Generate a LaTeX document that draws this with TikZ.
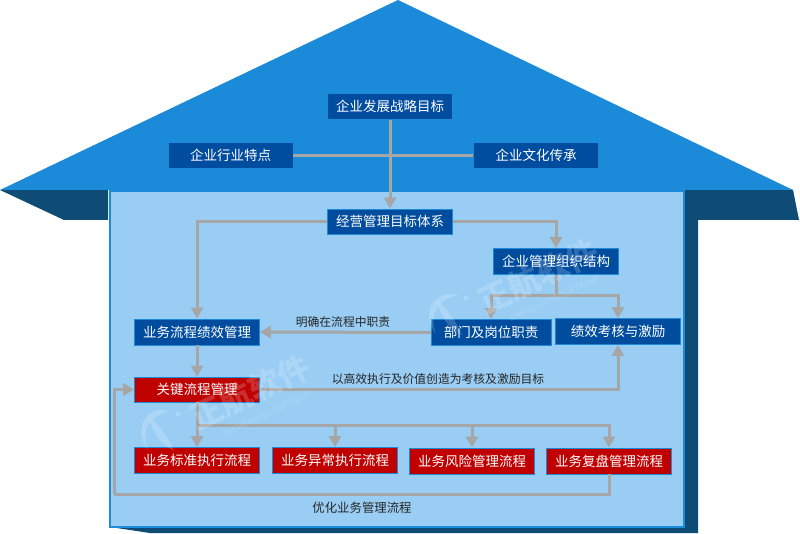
\documentclass[tikz,border=0pt]{standalone}
\usepackage{fontspec}
\setmainfont{Noto Sans CJK SC}
\usepackage{xcolor}
\usetikzlibrary{arrows.meta,calc}
\definecolor{roofblue}{HTML}{1B8AD9}
\definecolor{wallblue}{HTML}{99CDF3}
\definecolor{eavedark}{HTML}{0F4C75}
\definecolor{boxblue}{HTML}{004DA0}
\definecolor{boxred}{HTML}{C00000}
\definecolor{flowgray}{HTML}{A6A6A6}
\tikzset{
  bluebox/.style={draw=roofblue, line width=0.8pt, fill=boxblue, text=white, font=\fontsize{13.5}{14}\selectfont,
    minimum width=125pt, minimum height=26pt, inner sep=0pt},
  redbox/.style={bluebox, fill=boxred},
  flow/.style={draw=flowgray, line width=3pt},
  flowlabel/.style={text=black!85, inner sep=0pt},
  stamp/.style={text=white, text opacity=0.18, rotate=25, inner sep=0pt}
}
\begin{document}
\begin{tikzpicture}[>={Triangle[length=11pt,width=12pt]}, x=1pt, y=-1pt]
  \useasboundingbox (0,0) rectangle (800,534);
  % house
  \fill[eavedark] (0,190) -- (64,220) -- (108,220) -- (108,190) -- cycle;
  \fill[eavedark] (684,190) -- (793,190) -- (799,220) -- (698,220) -- (698,533) -- (150,533) -- (110,527) -- (684,527) -- cycle;
  \fill[roofblue] (0,190) -- (398,0) -- (793,190) -- cycle;
  \draw[roofblue, fill=wallblue, line width=2pt] (110,191) rectangle (684,527);
  % boxes
  \node[bluebox] (goal) at (390,106.5) {企业发展战略目标};
  \node[bluebox] (trade) at (230.5,155.5) {企业行业特点};
  \node[bluebox] (culture) at (536,155.5) {企业文化传承};
  \node[bluebox, minimum height=25pt] (system) at (390,221.5) {经营管理目标体系};
  \node[bluebox] (org) at (556,261.5) {企业管理组织结构};
  \node[bluebox] (perf) at (197,332) {业务流程绩效管理};
  \node[bluebox, minimum width=120pt] (post) at (491,332.5) {部门及岗位职责};
  \node[bluebox] (kpi) at (618,331.5) {绩效考核与激励};
  \node[redbox, minimum height=25pt] (key) at (197,389.5) {关键流程管理};
  \node[redbox] (std) at (197,460.5) {业务标准执行流程};
  \node[redbox] (exc) at (335,460.5) {业务异常执行流程};
  \node[redbox] (risk) at (472,461) {业务风险管理流程};
  \node[redbox] (rev) at (609,461) {业务复盘管理流程};
  % connectors
  \coordinate (orgbus) at (556,296);
  \coordinate (keybus) at (197,425);
  \coordinate (loopc) at (114,494);
  \draw[flow] (trade) -- (culture);
  \draw[flow, ->] (goal) -- (system);
  \draw[flow, ->] (system.west) -| (perf.north);
  \draw[flow, ->] (system.east) -| (org.north);
  \draw[flow] (org) -- (orgbus);
  \draw[flow, ->] (orgbus) -| (post.north);
  \draw[flow, ->] (orgbus) -| (kpi.north);
  \draw[flow, ->] (post) -- (perf);
  \draw[flow, ->] (perf) -- (key);
  \draw[flow, ->] (key.east) -| (kpi.south);
  \draw[flow, ->] (key) -- (std);
  \draw[flow, ->] (keybus) -| (exc.north);
  \draw[flow, ->] (keybus) -| (risk.north);
  \draw[flow, ->] (keybus) -| (rev.north);
  \draw[flow] (rev.south) |- (loopc);
  \draw[flow, ->] (loopc) |- (key.west);
  % labels
  \node[flowlabel, font=\fontsize{11.8}{12}\selectfont] (duty) at (343,322) {明确在流程中职责};
  \node[flowlabel, font=\fontsize{11.8}{12}\selectfont] (target) at (438,379) {以高效执行及价值创造为考核及激励目标};
  \node[flowlabel, font=\fontsize{12.4}{13}\selectfont] (optimize) at (362,508) {优化业务管理流程};
  % watermarks
  \foreach \dx/\dy/\nm in {0/0/A, 288/-116/B} {
    \begin{scope}[shift={(\dx,\dy)}]
      \fill[white, opacity=0.18] (170,411) .. controls (146,404) and (132,430) .. (148,450)
        .. controls (140,430) and (150,416) .. (170,411) -- cycle;
      \fill[white, opacity=0.18] (150,418) .. controls (160,424) and (168,438) .. (174,451)
        .. controls (160,444) and (152,432) .. (150,418) -- cycle;
      \fill[white, opacity=0.18] (178,414) circle (2.5pt);
      \node[stamp, font=\bfseries\fontsize{32}{32}\selectfont] (mark\nm) at (250,392) {正航软件};
      \node[stamp, font=\fontsize{8.5}{9}\selectfont] (sub\nm) at (267,414) {ZHENG HANG SOFTWARE};
    \end{scope}
  }
\end{tikzpicture}
\end{document}
